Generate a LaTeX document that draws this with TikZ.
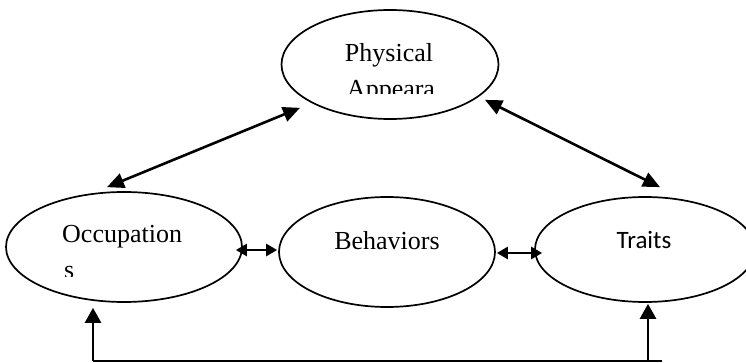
\documentclass[tikz,border=0pt]{standalone}
\usepackage{fontspec}
\setmainfont{Liberation Serif}
\newfontfamily\calibri{Carlito}
\usetikzlibrary{shapes,arrows.meta}

\begin{document}
\begin{tikzpicture}[x=1pt, y=-1pt,
		bubble/.style={ellipse, draw, line width=1.7pt, inner sep=0pt},
		txt/.style={inner sep=0pt, anchor=base, font=\fontsize{26}{30}\selectfont},
		link/.style={line width=2.6pt, {Triangle[length=17pt,width=15pt]}-{Triangle[length=17pt,width=15pt]}},
		pair/.style={line width=2.6pt, {Triangle[length=11pt,width=12pt]}-{Triangle[length=11pt,width=12pt]}},
		feed/.style={line width=2.6pt, -{Triangle[length=15pt,width=16pt]}}
	]
	\useasboundingbox (0,0) rectangle (746,363);

	% the four ellipses
	\node[bubble, minimum width=217pt, minimum height=109pt] (phy) at (390,64.5) {};
	\node[bubble, minimum width=236pt, minimum height=110pt] (occ) at (124,247) {};
	\node[bubble, minimum width=216pt, minimum height=110pt] (beh) at (387,252) {};
	\node[bubble, minimum width=220pt, minimum height=105pt] (trt) at (645,249.5) {};

	% texts, cut off as in the text boxes
	\begin{scope}
		\clip (280,0) rectangle (500,94);
		\node[txt] (phytxt) at (389,62) {Physical};
		\node[txt] (apptxt) at (391,98) {Appeara};
	\end{scope}
	\begin{scope}
		\clip (0,180) rectangle (250,276);
		\node[txt, anchor=base west] (occtxt) at (62,243) {Occupation};
		\node[txt, anchor=base west] (stxt) at (64,278) {s};
	\end{scope}
	\node[txt] (behtxt) at (387,249) {Behaviors};
	\node[txt, font=\fontsize{25}{30}\calibri] (trttxt) at (644,248) {Traits};

	% arrows
	\draw[link] ([shift={(-17,-4)}]occ.north) -- ([shift={(-90,-12)}]phy.south);
	\draw[link] ([shift={(95,-20)}]phy.south) -- ([shift={(15,-9)}]trt.north);
	\draw[pair] ([shift={(-7,3)}]occ.east) -- ([shift={(-1,-2)}]beh.west);
	\draw[pair] ([shift={(1,1)}]beh.east) -- ([shift={(8,3.5)}]trt.west);

	% bottom loop
	\coordinate (bl) at (93,361);
	\coordinate (br) at (662,361);
	\draw[line width=2.6pt] (br) -- (bl);
	\draw[feed] (bl) -- ([shift={(-31,5)}]occ.south);
	\draw[feed] ([xshift=-14pt]br) -- ([shift={(3,1)}]trt.south);

\end{tikzpicture}
\end{document}
